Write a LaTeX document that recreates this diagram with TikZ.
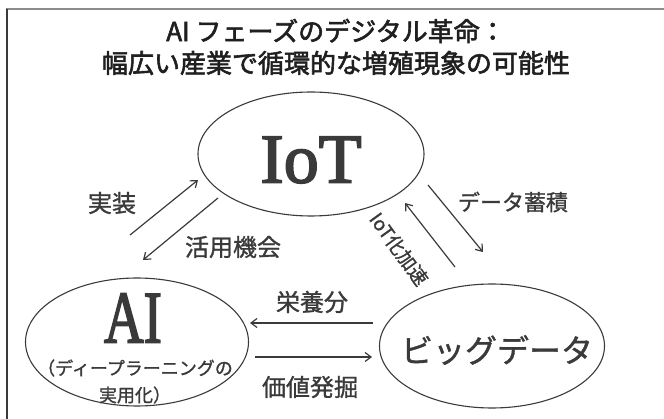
\documentclass[tikz,border=0pt]{standalone}
\usepackage{fontspec}
\setmainfont{Noto Sans CJK JP}[FakeBold=1.2]
\newfontfamily\titlefont{Noto Sans CJK JP}[FakeBold=2.2]
\newfontfamily\latserif{Liberation Serif}[FakeBold=2.5]
\usetikzlibrary{arrows.meta,shapes.geometric}
\definecolor{ink}{HTML}{3A3A3A}
\definecolor{frametop}{HTML}{8C8C8C}
\tikzset{
  bubble/.style={draw=ink, line width=1.1pt, ellipse, minimum width=224pt, minimum height=124pt, inner sep=0pt},
  flow/.style={draw=ink, line width=1.2pt, -{Straight Barb[length=6pt,width=9pt]}},
  lbl/.style={text=ink, inner sep=0pt, font=\fontsize{24}{26}\selectfont},
  ttl/.style={text=black!88, inner sep=0pt, font=\titlefont\fontsize{26}{28}\selectfont}
}
\begin{document}
\begin{tikzpicture}[x=1pt,y=-1pt]
\useasboundingbox (0,0) rectangle (664,419);
% frame
\draw[frametop, line width=2.4pt] (6,9) -- (664,9);
\draw[ink, line width=1.4pt] (7,9) -- (7,419);
% title
\node[ttl] (t1) at (336,31) {AI フェーズのデジタル革命：};
\node[ttl] (t2) at (336,63) {幅広い産業で循環的な増殖現象の可能性};
% bubbles
\node[bubble, minimum width=226pt, minimum height=124pt] (iot) at (311,154) {};
\node[bubble, minimum width=223pt, minimum height=128pt] (ai) at (137,342) {};
\node[bubble, minimum width=225pt, minimum height=124pt] (bd) at (492,346) {};
% bubble texts
\node[text=ink, inner sep=0pt, font=\latserif\fontsize{70}{70}\selectfont] (iott) at (311,160) {IoT};
\node[text=ink, inner sep=0pt, font=\latserif\fontsize{74}{74}\selectfont, xscale=0.74] (ait) at (133,318) {AI};
\node[text=ink, inner sep=0pt, font=\fontsize{18}{20}\selectfont] (ais1) at (135,368) {（ディープラーニングの};
\node[text=ink, inner sep=0pt, font=\fontsize{18}{20}\selectfont] (ais2) at (135,395) {実用化）};
\node[text=ink, inner sep=0pt, font=\fontsize{32}{34}\selectfont] (bdt) at (497,350) {ビッグデータ};
% arrow endpoints
\coordinate (a1s) at (130,235); \coordinate (a1e) at (198,180);
\coordinate (a2s) at (218,198); \coordinate (a2e) at (143,260);
\coordinate (a3s) at (428,185); \coordinate (a3e) at (483,252);
\coordinate (a4s) at (455,267); \coordinate (a4e) at (405,203);
\coordinate (a5s) at (373,323); \coordinate (a5e) at (250,323);
\coordinate (a6s) at (255,357); \coordinate (a6e) at (372,357);
\draw[flow] (a1s) -- (a1e);
\draw[flow] (a2s) -- (a2e);
\draw[flow] (a3s) -- (a3e);
\draw[flow] (a4s) -- (a4e);
\draw[flow] (a5s) -- (a5e);
\draw[flow] (a6s) -- (a6e);
% labels
\node[lbl] (l1) at (112,203) {実装};
\node[lbl] (l2) at (233,247) {活用機会};
\node[lbl, font=\fontsize{22}{24}\selectfont] (l3) at (513,202) {データ蓄積};
\node[lbl, font=\fontsize{19}{21}\selectfont, rotate=-54] (l4) at (399,249) {IoT化加速};
\node[lbl] (l5) at (312,302) {栄養分};
\node[lbl] (l6) at (310,387) {価値発掘};
\end{tikzpicture}
\end{document}
